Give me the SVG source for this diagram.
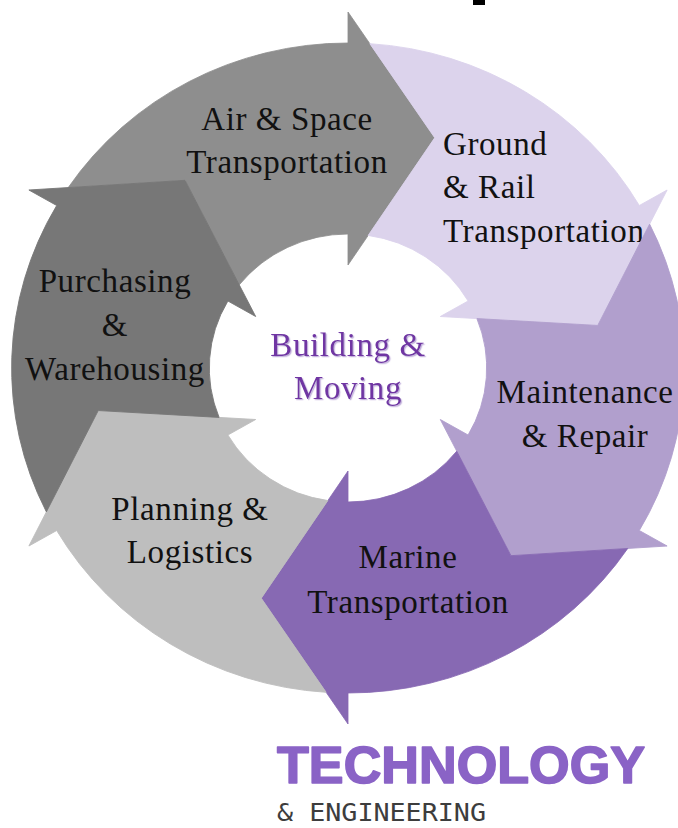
<svg xmlns="http://www.w3.org/2000/svg" xmlns:xlink="http://www.w3.org/1999/xlink" width="678" height="828" viewBox="0 0 678 828">
<defs>
<style>
.lbl{font-family:"Liberation Serif","Times New Roman",serif;font-size:33px;letter-spacing:0.6px;fill:#111;text-anchor:middle}
.lft{text-anchor:start}
.ctr{fill:#6f35a3;filter:url(#sh)}
.arr{stroke-width:0.8}
</style>
<filter id="sh" x="-10%" y="-10%" width="130%" height="140%">
<feDropShadow dx="1.2" dy="1.2" stdDeviation="0.3" flood-color="#c2b0dc" flood-opacity="1"/>
</filter>
<path id="arrow" d="M180.44,-270.31 A325,325 0 0 1 325,0 L356,0 L230.22,83.79 L103,0 L134,0 A134,134 0 0 0 83.16,-105.07 L187.68,-157.48 Z"/>
</defs>
<rect width="678" height="828" fill="#ffffff"/>
<rect x="473" y="0" width="12" height="5" fill="#000000"/>
<g id="connectors"></g>
<g id="air-space">
<use xlink:href="#arrow" class="arr" fill="#8e8e8e" stroke="#8e8e8e" transform="translate(348,368) scale(1.035,1) rotate(270)"/>
<text class="lbl" x="287" y="130">Air &amp; Space</text>
<text class="lbl" x="287" y="173">Transportation</text>
</g>
<g id="ground-rail">
<use xlink:href="#arrow" class="arr" fill="#dcd3ec" stroke="#dcd3ec" transform="translate(348,368) scale(1.035,1) rotate(330)"/>
<text class="lbl lft" x="443" y="155">Ground</text>
<text class="lbl lft" x="443" y="198">&amp; Rail</text>
<text class="lbl lft" x="443" y="242">Transportation</text>
</g>
<g id="maintenance">
<use xlink:href="#arrow" class="arr" fill="#b19fcd" stroke="#b19fcd" transform="translate(348,368) scale(1.035,1) rotate(30)"/>
<text class="lbl" x="585" y="403">Maintenance</text>
<text class="lbl" x="585" y="447">&amp; Repair</text>
</g>
<g id="marine">
<use xlink:href="#arrow" class="arr" fill="#8769b3" stroke="#8769b3" transform="translate(348,368) scale(1.035,1) rotate(90)"/>
<text class="lbl" x="408" y="568">Marine</text>
<text class="lbl" x="408" y="613">Transportation</text>
</g>
<g id="planning">
<use xlink:href="#arrow" class="arr" fill="#bebebe" stroke="#bebebe" transform="translate(348,368) scale(1.035,1) rotate(150)"/>
<text class="lbl" x="190" y="520">Planning &amp;</text>
<text class="lbl" x="190" y="563">Logistics</text>
</g>
<g id="purchasing">
<use xlink:href="#arrow" class="arr" fill="#777777" stroke="#777777" transform="translate(348,368) scale(1.035,1) rotate(210)"/>
<text class="lbl" x="115" y="292">Purchasing</text>
<text class="lbl" x="115" y="336">&amp;</text>
<text class="lbl" x="115" y="380">Warehousing</text>
</g>
<g id="center">
<text class="lbl ctr" x="348" y="356">Building &amp;</text>
<text class="lbl ctr" x="348" y="399">Moving</text>
</g>
<g id="logo">
<text x="277" y="783" font-family="'Liberation Sans',Arial,sans-serif" font-weight="bold" font-size="51" fill="#8a63c6" stroke="#8a63c6" stroke-width="1.6" stroke-linejoin="round" textLength="368" lengthAdjust="spacingAndGlyphs">TECHNOLOGY</text>
<text x="277" y="821" font-family="'DejaVu Sans Mono','Liberation Mono',monospace" font-size="25" fill="#3d3d3d" textLength="209" lengthAdjust="spacingAndGlyphs">&amp; ENGINEERING</text>
</g>
</svg>
